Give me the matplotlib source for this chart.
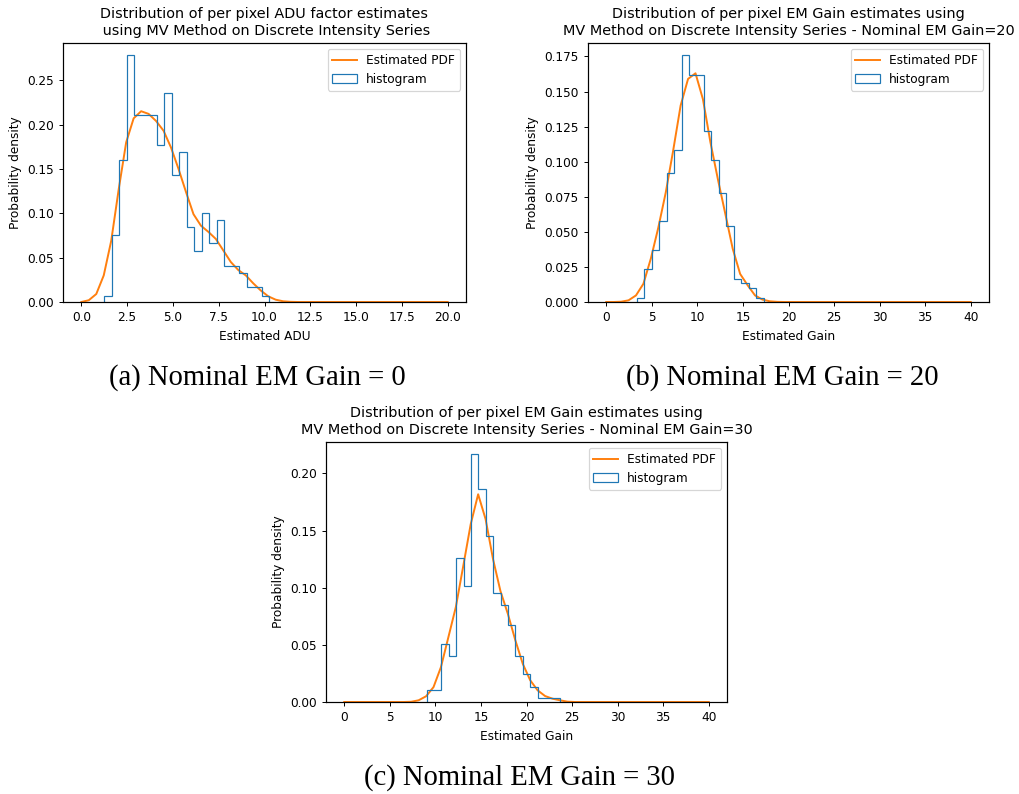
import numpy as np
import matplotlib
matplotlib.use("Agg")
import matplotlib.pyplot as plt
from matplotlib.patches import Patch
from matplotlib.lines import Line2D

# ---- data ----
# panel (a): ADU factor, nominal EM gain = 0
adu_edges = [1.26, 1.67, 2.08, 2.49, 2.90, 3.31, 3.71, 4.12, 4.53, 4.94, 5.35, 5.76,
             6.17, 6.58, 6.99, 7.40, 7.80, 8.21, 8.62, 9.03, 9.44, 9.85, 10.26]
adu_hist = [0.0071, 0.0757, 0.160, 0.278, 0.211, 0.211, 0.211, 0.177, 0.236, 0.143, 0.169,
            0.0843, 0.058, 0.100, 0.0667, 0.092, 0.041, 0.041, 0.033, 0.0165, 0.0165, 0.0067]
adu_pdf = [0.0, 0.002, 0.009, 0.030, 0.069, 0.127, 0.180, 0.207, 0.215, 0.212,
           0.204, 0.193, 0.174, 0.150, 0.124, 0.099, 0.086, 0.079, 0.071, 0.058,
           0.045, 0.036, 0.030, 0.021, 0.013, 0.0064, 0.0026, 0.0008, 0.0002, 0.0,
           0.0, 0.0, 0.0, 0.0, 0.0, 0.0, 0.0, 0.0, 0.0, 0.0,
           0.0, 0.0, 0.0, 0.0, 0.0, 0.0, 0.0, 0.0, 0.0, 0.0]

# panel (b): EM gain, nominal 20
g20_edges = [3.35, 4.17, 4.99, 5.80, 6.62, 7.44, 8.26, 9.08, 9.89, 10.71, 11.53, 12.35,
             13.17, 13.98, 14.80, 15.62, 16.44, 17.26]
g20_hist = [0.0031, 0.0235, 0.037, 0.0576, 0.0917, 0.108, 0.1758, 0.162, 0.162, 0.1216,
            0.101, 0.078, 0.0543, 0.0166, 0.0133, 0.010, 0.003]
g20_pdf = [0.0, 0.0, 0.0002, 0.0012, 0.0047, 0.013, 0.031, 0.053, 0.078, 0.108,
           0.140, 0.159, 0.163, 0.1445, 0.114, 0.0877, 0.063, 0.038, 0.020, 0.012,
           0.0047, 0.0017, 0.0005, 0.0001, 0.0, 0.0, 0.0, 0.0, 0.0, 0.0,
           0.0, 0.0, 0.0, 0.0, 0.0, 0.0, 0.0, 0.0, 0.0, 0.0,
           0.0, 0.0, 0.0, 0.0, 0.0, 0.0, 0.0, 0.0, 0.0, 0.0]

# panel (c): EM gain, nominal 30
g30_edges = [9.03, 9.84, 10.66, 11.47, 12.28, 13.10, 13.91, 14.72, 15.53, 16.35, 17.16,
             17.97, 18.79, 19.60, 20.41, 21.23, 22.04, 22.85, 23.66]
g30_hist = [0.0102, 0.0102, 0.0509, 0.0401, 0.1256, 0.1012, 0.2166, 0.186, 0.1448, 0.095,
            0.0846, 0.0677, 0.0404, 0.0241, 0.0134, 0.0032, 0.0032, 0.0032]
g30_pdf = [0.0, 0.0, 0.0, 0.0, 0.0, 0.0, 0.0, 0.0, 0.0, 0.0002,
           0.0015, 0.005, 0.013, 0.0305, 0.0567, 0.083, 0.119, 0.1555, 0.1817, 0.160,
           0.125, 0.097, 0.077, 0.054, 0.0334, 0.019, 0.0102, 0.0052, 0.0029, 0.0015,
           0.0003, 0.0, 0.0, 0.0, 0.0, 0.0, 0.0, 0.0, 0.0, 0.0,
           0.0, 0.0, 0.0, 0.0, 0.0, 0.0, 0.0, 0.0, 0.0, 0.0]

titles = ["Distribution of per pixel ADU factor estimates\n using MV Method on Discrete Intensity Series",
          "Distribution of per pixel EM Gain estimates using\nMV Method on Discrete Intensity Series - Nominal EM Gain=20",
          "Distribution of per pixel EM Gain estimates using\nMV Method on Discrete Intensity Series - Nominal EM Gain=30"]
xlabels = ["Estimated ADU", "Estimated Gain", "Estimated Gain"]
captions = ["(a) Nominal EM Gain = 0", "(b) Nominal EM Gain = 20", "(c) Nominal EM Gain = 30"]
xmax = [20, 40, 40]

plt.rcParams.update({
    "font.size": 8.7,
    "axes.titlesize": 10.4,
    "lines.linewidth": 1.4,
    "patch.linewidth": 0.87,
    "axes.linewidth": 0.87,
    "xtick.major.size": 3.0,
    "ytick.major.size": 3.0,
    "xtick.major.width": 0.7,
    "ytick.major.width": 0.7,
})

W, H = 1019, 794
fig = plt.figure(figsize=(W / 100, H / 100), dpi=100)

# axes boxes in pixels: left, top, right, bottom
boxes = [(63, 43, 466, 302), (588, 43, 989, 302), (326, 442, 727, 702)]
cap_pos = [(257, 385), (782, 385), (519, 785)]

data = [(adu_edges, adu_hist, adu_pdf), (g20_edges, g20_hist, g20_pdf), (g30_edges, g30_hist, g30_pdf)]

for i, (edges, hist, pdf) in enumerate(data):
    l, t, r, b = boxes[i]
    ax = fig.add_axes([l / W, 1 - b / H, (r - l) / W, (b - t) / H])
    x = np.linspace(0, xmax[i], len(pdf))
    ax.plot(x, pdf, color="#ff7f0e")
    ax.hist(edges[:-1], bins=edges, weights=hist, histtype="step", color="#1f77b4")
    ax.set_title(titles[i])
    ax.set_xlabel(xlabels[i])
    ax.set_ylabel("Probability density")
    handles = [Line2D([], [], color="#ff7f0e"),
               Patch(facecolor="none", edgecolor="#1f77b4")]
    ax.legend(handles, ["Estimated PDF", "histogram"], loc="upper right")
    fig.text(cap_pos[i][0] / W, 1 - cap_pos[i][1] / H, captions[i], ha="center", va="baseline",
             family="Liberation Serif", fontsize=20.6)

fig.savefig("out.png", dpi=100)
